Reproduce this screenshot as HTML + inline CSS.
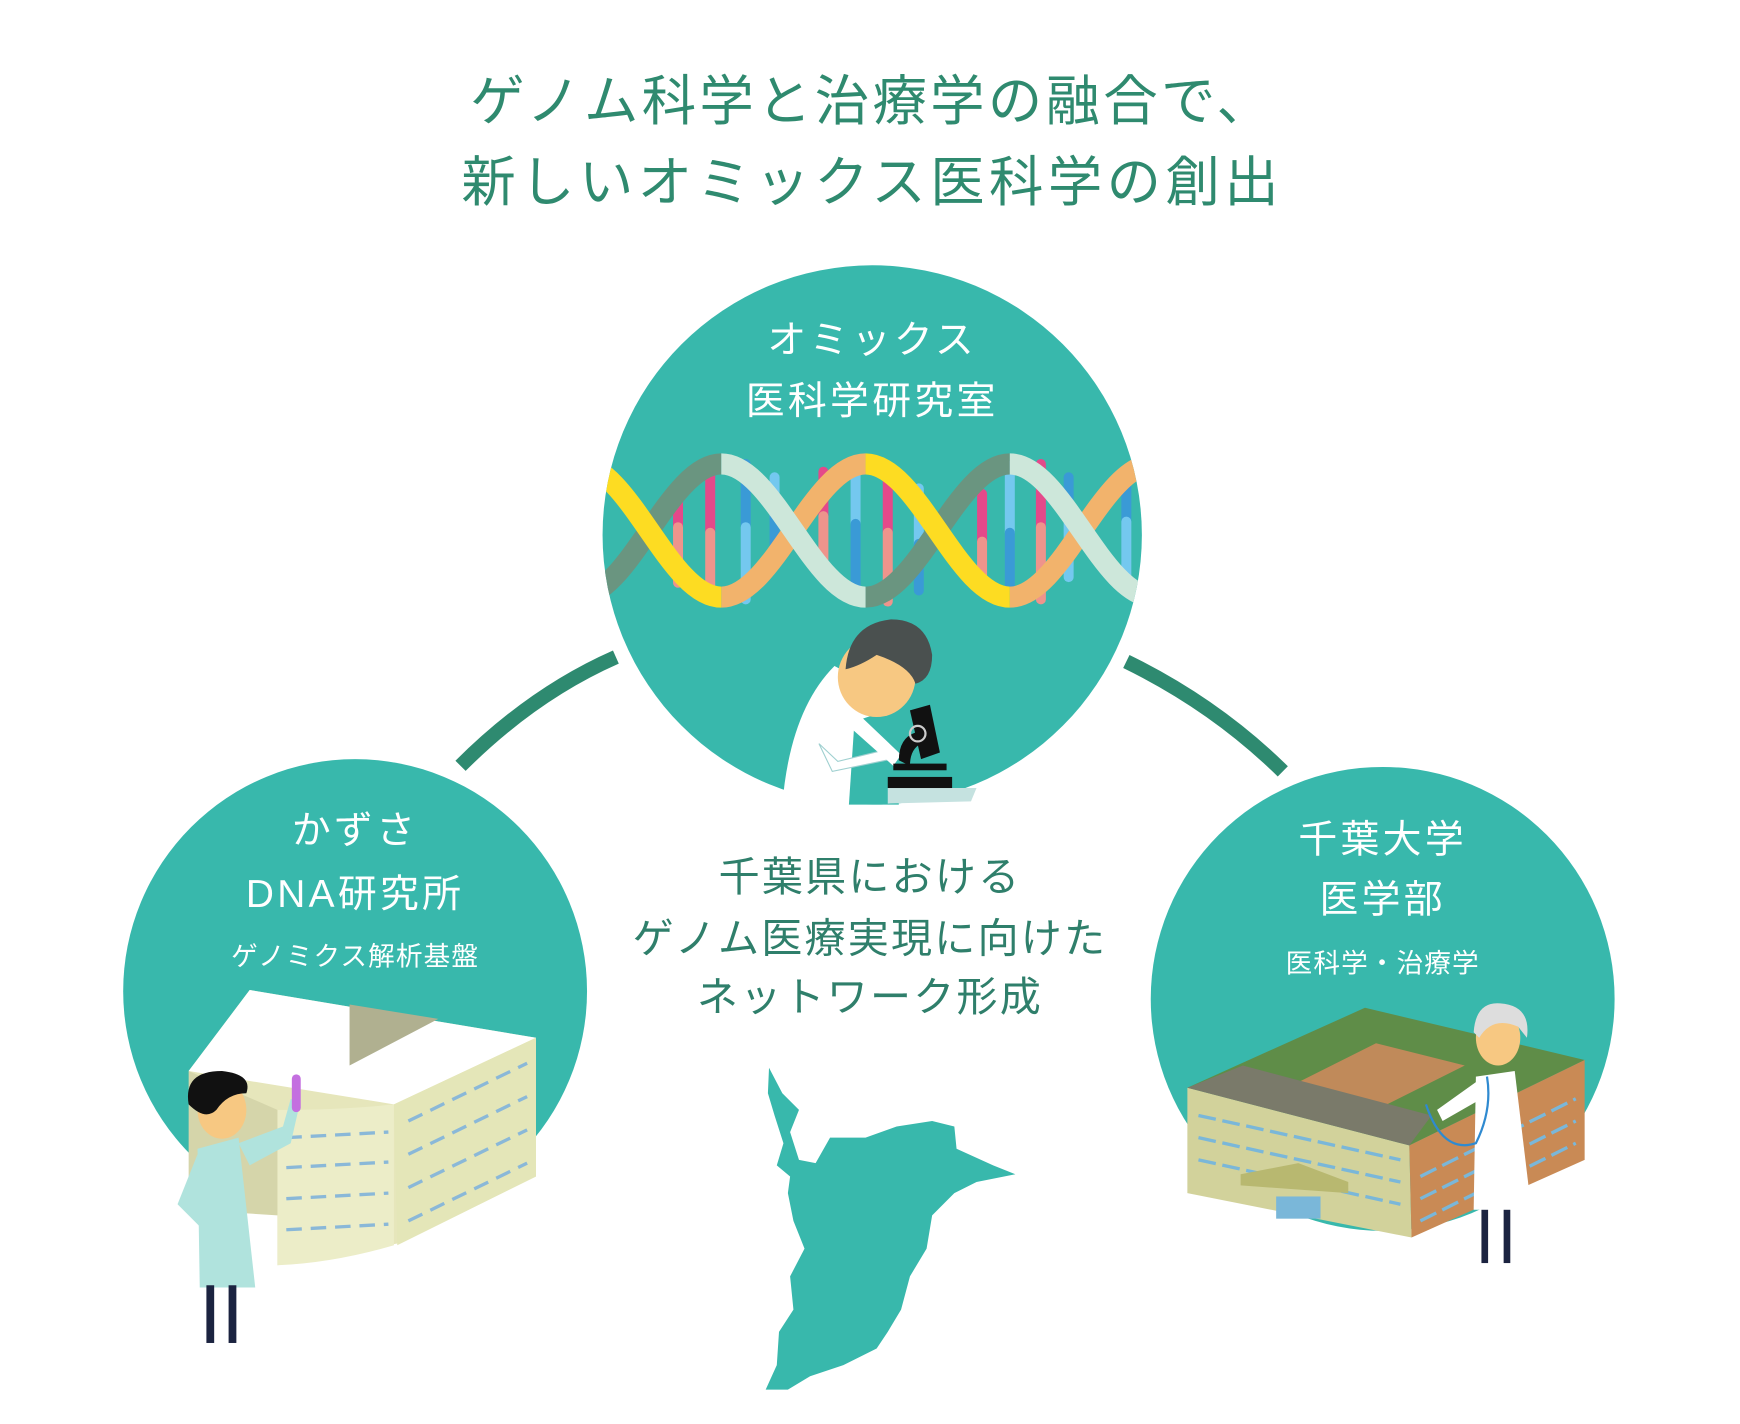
<!DOCTYPE html>
<html><head><meta charset="utf-8"><style>
html,body{margin:0;padding:0;background:#fff;}
svg{display:block;}
text{font-family:"Liberation Sans","Noto Sans CJK JP",sans-serif;}
</style></head><body>
<svg width="1740" height="1424" viewBox="0 0 1568 1283" preserveAspectRatio="none" xmlns="http://www.w3.org/2000/svg">
<defs>
<clipPath id="ct"><circle cx="786" cy="482" r="243"/></clipPath>
</defs>
<g fill="#2f8a6f" font-size="49" text-anchor="middle">
<text x="786" y="108" letter-spacing="3">ゲノム科学と治療学の融合で、</text>
<text x="786" y="181" letter-spacing="4">新しいオミックス医科学の創出</text>
</g>
<g fill="none" stroke="#2e8a70" stroke-width="13">
<path d="M415 690 Q480 625 555 592"/>
<path d="M1015 596 Q1095 635 1156 695"/>
</g>
<circle cx="786" cy="482" r="243" fill="#38b8ac"/>
<circle cx="320" cy="893" r="209" fill="#38b8ac"/>
<circle cx="1246" cy="900" r="209" fill="#38b8ac"/>
<g clip-path="url(#ct)" stroke-linecap="round">
<g stroke-width="9">
<line x1="611" y1="440" x2="611" y2="475" stroke="#e4498a"/><line x1="611" y1="475" x2="611" y2="525" stroke="#ee948c"/>
<line x1="640" y1="418" x2="640" y2="480" stroke="#e4498a"/><line x1="640" y1="480" x2="640" y2="535" stroke="#ee948c"/>
<line x1="672" y1="418" x2="672" y2="475" stroke="#3a9ad6"/><line x1="672" y1="475" x2="672" y2="540" stroke="#74c8ef"/>
<line x1="698" y1="430" x2="698" y2="465" stroke="#74c8ef"/><line x1="698" y1="465" x2="698" y2="505" stroke="#3a9ad6"/>
<line x1="742" y1="425" x2="742" y2="465" stroke="#e4498a"/><line x1="742" y1="465" x2="742" y2="520" stroke="#ee948c"/>
<line x1="771" y1="415" x2="771" y2="472" stroke="#74c8ef"/><line x1="771" y1="472" x2="771" y2="540" stroke="#3a9ad6"/>
<line x1="800" y1="420" x2="800" y2="480" stroke="#e4498a"/><line x1="800" y1="480" x2="800" y2="542" stroke="#ee948c"/>
<line x1="828" y1="440" x2="828" y2="490" stroke="#74c8ef"/><line x1="828" y1="490" x2="828" y2="532" stroke="#3a9ad6"/>
<line x1="885" y1="445" x2="885" y2="488" stroke="#e4498a"/><line x1="885" y1="488" x2="885" y2="530" stroke="#ee948c"/>
<line x1="910" y1="420" x2="910" y2="480" stroke="#74c8ef"/><line x1="910" y1="480" x2="910" y2="540" stroke="#3a9ad6"/>
<line x1="938" y1="418" x2="938" y2="475" stroke="#e4498a"/><line x1="938" y1="475" x2="938" y2="540" stroke="#ee948c"/>
<line x1="963" y1="430" x2="963" y2="470" stroke="#3a9ad6"/><line x1="963" y1="470" x2="963" y2="520" stroke="#74c8ef"/>
<line x1="1015" y1="435" x2="1015" y2="470" stroke="#3a9ad6"/><line x1="1015" y1="470" x2="1015" y2="520" stroke="#74c8ef"/>
</g>
<g fill="none" stroke-width="19" stroke-linecap="butt">
<path d="M520 538 C567 538 603 418 650 418" stroke="#6a9580"/>
<path d="M780 538 C827 538 863 418 910 418" stroke="#6a9580"/>
<path d="M650 538 C697 538 733 418 780 418" stroke="#f2b36c"/>
<path d="M910 538 C957 538 993 418 1040 418" stroke="#f2b36c"/>
<path d="M520 418 C567 418 603 538 650 538" stroke="#fddc22"/>
<path d="M780 418 C827 418 863 538 910 538" stroke="#fddc22"/>
<path d="M650 418 C697 418 733 538 780 538" stroke="#cde7da"/>
<path d="M910 418 C957 418 993 538 1040 538" stroke="#cde7da"/>
</g>
</g>
<path d="M705 725 Q712 640 752 600 L790 620 L800 725 Z" fill="#fff"/>
<path d="M765 725 L770 650 L800 640 L810 725 Z" fill="#38b8ac"/>
<path d="M800 710 L880 710 L875 722 L800 724 Z" fill="#c5e2e0"/>
<ellipse cx="790" cy="610" rx="35" ry="36" fill="#f7c882"/>
<path d="M762 603 Q765 562 803 558 Q835 558 840 590 Q840 612 825 616 Q820 600 790 590 Q775 600 762 603Z" fill="#4a504f"/>
<path d="M738 670 L750 695 L808 683 L800 675 L755 686 Z" fill="#fff" stroke="#9fd0d0" stroke-width="1"/>
<path d="M760 650 L805 690 L812 680 L770 640 Z" fill="#fff"/>
<g fill="#111">
<rect x="800" y="700" width="58" height="10"/>
<rect x="805" y="688" width="48" height="6"/>
<path d="M820 640 L838 635 L847 678 L830 684 Z"/>
<path d="M810 685 Q810 665 825 660 L830 670 Q820 675 820 690 Z"/>
</g>
<circle cx="827" cy="661" r="7" fill="none" stroke="#ccc" stroke-width="2"/>
<g fill="#fff" text-anchor="middle" font-size="35" letter-spacing="3">
<text x="786" y="318">オミックス</text>
<text x="786" y="373">医科学研究室</text>
<text x="320" y="760">かずさ</text>
<text x="320" y="817">DNA研究所</text>
<text x="1246" y="768">千葉大学</text>
<text x="1246" y="822">医学部</text>
</g>
<g fill="#fff" text-anchor="middle" font-size="24" letter-spacing="1">
<text x="320" y="870">ゲノミクス解析基盤</text>
<text x="1246" y="876">医科学・治療学</text>
</g>
<g fill="#2f7f6b" text-anchor="middle" font-size="37" letter-spacing="2">
<text x="784" y="803">千葉県における</text>
<text x="784" y="858">ゲノム医療実現に向けた</text>
<text x="784" y="911">ネットワーク形成</text>
</g>
<path d="M170 965 L225 892 L483 935 L483 1060 L360 1120 L250 1140 L250 1095 Z" fill="#e6e6bb"/>
<path d="M225 892 L483 935 L355 995 L170 965 Z" fill="#fff"/>
<path d="M315 905 L395 918 L315 960 Z" fill="#b0b090"/>
<path d="M355 995 L483 935 L483 1060 L358 1122 Z" fill="#e4e6b8"/>
<path d="M250 1000 Q310 1000 355 995 L355 1122 Q300 1138 250 1140 Z" fill="#ecedc8"/>
<path d="M170 965 L250 1000 L250 1095 L170 1090 Z" fill="#d5d5aa"/>
<g stroke="#8ab8d8" stroke-width="3" stroke-dasharray="14 8">
<line x1="258" y1="1025" x2="350" y2="1020"/><line x1="258" y1="1052" x2="350" y2="1047"/>
<line x1="258" y1="1080" x2="350" y2="1075"/><line x1="258" y1="1108" x2="350" y2="1103"/>
<line x1="368" y1="1010" x2="475" y2="958"/><line x1="368" y1="1040" x2="475" y2="988"/>
<line x1="368" y1="1070" x2="475" y2="1018"/><line x1="368" y1="1100" x2="475" y2="1048"/>
</g>
<path d="M178 1035 L215 1025 L230 1160 L180 1160 Z" fill="#b0e3dd"/>
<path d="M160 1085 L178 1040 L185 1110 Z" fill="#b0e3dd"/>
<path d="M215 1030 L255 1015 L262 990 L270 995 L262 1030 L225 1050 Z" fill="#b0e3dd"/>
<rect x="186" y="1158" width="7" height="52" fill="#1b2340"/><rect x="206" y="1158" width="7" height="52" fill="#1b2340"/>
<ellipse cx="200" cy="1000" rx="22" ry="26" fill="#f7c882"/>
<path d="M170 995 Q165 965 200 965 Q228 968 222 985 Q205 985 195 1000 Q185 1010 170 995Z" fill="#111"/>
<rect x="263" y="968" width="8" height="34" rx="4" fill="#c46fe0"/>
<path d="M1070 980 L1230 908 L1428 955 L1270 1032 Z" fill="#5f8d48"/>
<path d="M1140 990 L1240 940 L1320 960 L1220 1010 Z" fill="#c08a5a"/>
<path d="M1070 980 L1270 1032 L1272 1115 L1070 1075 Z" fill="#d2d29b"/>
<path d="M1270 1032 L1428 955 L1428 1045 L1272 1115 Z" fill="#c98a55"/>
<path d="M1070 980 L1120 960 L1290 1005 L1270 1032 Z" fill="#7a7a6a"/>
<g stroke="#7ab7d9" stroke-width="3" stroke-dasharray="16 6">
<line x1="1080" y1="1005" x2="1262" y2="1045"/><line x1="1080" y1="1025" x2="1262" y2="1065"/>
<line x1="1080" y1="1045" x2="1262" y2="1085"/><line x1="1280" y1="1060" x2="1420" y2="990"/>
<line x1="1280" y1="1080" x2="1420" y2="1010"/><line x1="1280" y1="1100" x2="1420" y2="1030"/>
</g>
<path d="M1118 1058 L1170 1048 L1215 1065 L1215 1075 L1118 1068Z" fill="#b8b870"/>
<rect x="1150" y="1078" width="40" height="20" fill="#7ab7d9"/>
<path d="M1330 970 L1365 965 L1380 1090 L1328 1090 Z" fill="#fff"/>
<path d="M1295 1000 L1330 975 L1335 990 L1300 1010 Z" fill="#fff"/>
<rect x="1335" y="1090" width="6" height="48" fill="#1b2340"/><rect x="1355" y="1090" width="6" height="48" fill="#1b2340"/>
<ellipse cx="1350" cy="935" rx="20" ry="25" fill="#f7c882"/>
<path d="M1328 930 Q1330 902 1352 904 Q1380 906 1376 935 L1368 925 Q1345 915 1333 935Z" fill="#ddd"/>
<path d="M1285 995 Q1300 1040 1330 1030 Q1345 1000 1340 970" fill="none" stroke="#2f8ad0" stroke-width="2"/>
<path d="M693 962 L705 985 L720 1000 L712 1020 L720 1045 L735 1048 L748 1025 L780 1025 L808 1015 L840 1010 L860 1015 L862 1035 L895 1050 L915 1058 L880 1065 L860 1075 L840 1095 L835 1125 L820 1150 L812 1180 L800 1200 L790 1215 L760 1230 L730 1240 L710 1252 L690 1252 L700 1230 L702 1200 L715 1180 L712 1150 L725 1125 L715 1100 L710 1075 L712 1060 L700 1050 L706 1030 L698 1005 L692 985 Z" fill="#38b8ac"/>
</svg>
</body></html>
